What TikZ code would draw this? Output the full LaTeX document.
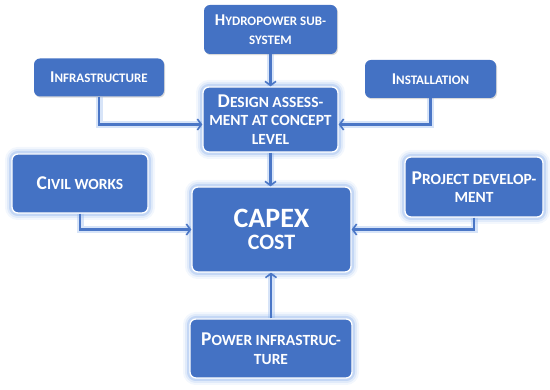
\documentclass[tikz,border=0pt]{standalone}
\usepackage{fontspec}
\setmainfont{Carlito}
\usetikzlibrary{arrows.meta,shadows,calc}
\definecolor{boxblue}{HTML}{4472C4}
\definecolor{glowc}{HTML}{8DB3EC}
\definecolor{lineblue}{HTML}{4A76C6}
\newcommand\bigc[1]{{\fontsize{16.5}{19}\selectfont #1}}
\newcommand\biggc[1]{{\fontsize{19.5}{19}\selectfont #1}}
\tikzset{
  box/.style={rounded corners=6pt, fill=boxblue, text=white, align=center,
    font=\fontsize{13}{19}\selectfont\bfseries, inner sep=2pt},
  plainbox/.style={box, drop shadow={opacity=0.3, shadow xshift=1pt, shadow yshift=-1.2pt}},
  glowbox/.style={box, draw=white, line width=1.3pt,
    font=\fontsize{15.5}{18.5}\selectfont\bfseries,
    preaction={draw=glowc, line width=14pt, draw opacity=0.10},
    preaction={draw=glowc, line width=10pt, draw opacity=0.18},
    preaction={draw=glowc, line width=6pt, draw opacity=0.35}},
  conn/.style={draw=lineblue, line width=2.6pt,
    -{Straight Barb[length=4pt,width=11pt,line width=1.6pt]},
    preaction={draw=glowc, line width=7pt, draw opacity=0.35, -}}
}
\begin{document}
\begin{tikzpicture}[x=1pt,y=-1pt]
\useasboundingbox (0,0) rectangle (550,390);
% nodes
\node[plainbox, minimum width=133pt, minimum height=49pt] (hydro) at (270.5,29.5)
  {\bigc{H}YDROPOWER SUB-\\SYSTEM};
\node[plainbox, minimum width=130pt, minimum height=38pt] (infra) at (99,77.5)
  {\bigc{I}NFRASTRUCTURE};
\node[plainbox, minimum width=131pt, minimum height=38pt] (inst) at (430.5,79)
  {\bigc{I}NSTALLATION};
\node[glowbox, minimum width=135pt, minimum height=65pt] (design) at (270.5,119.5)
  {\biggc{D}ESIGN ASSESS-\\MENT AT CONCEPT\\LEVEL};
\node[glowbox, minimum width=136pt, minimum height=59pt] (civil) at (80,183.5)
  {\biggc{C}IVIL WORKS};
\node[glowbox, minimum width=159pt, minimum height=85pt] (capex) at (271.5,229.5)
  {{\fontsize{28}{28}\selectfont CAPEX}\\[3pt]{\fontsize{22}{22}\selectfont COST}};
\node[glowbox, minimum width=138pt, minimum height=60pt] (proj) at (474,187)
  {\biggc{P}ROJECT DEVELOP-\\MENT};
\node[glowbox, minimum width=162pt, minimum height=59pt] (power) at (271,348.5)
  {\biggc{P}OWER INFRASTRUC-\\TURE};
% connectors
\draw[conn] (hydro.south) -- (design.north);
\draw[conn] (infra.south) |- ([yshift=-5pt]design.west);
\draw[conn] (inst.south) |- ([yshift=-5pt]design.east);
\draw[conn] (design.south) -- (design.south |- capex.north);
\draw[conn] (civil.south) |- (capex.west);
\draw[conn] (proj.south) |- (capex.east);
\draw[conn] (power.north) -- (power.north |- capex.south);
\end{tikzpicture}
\end{document}
